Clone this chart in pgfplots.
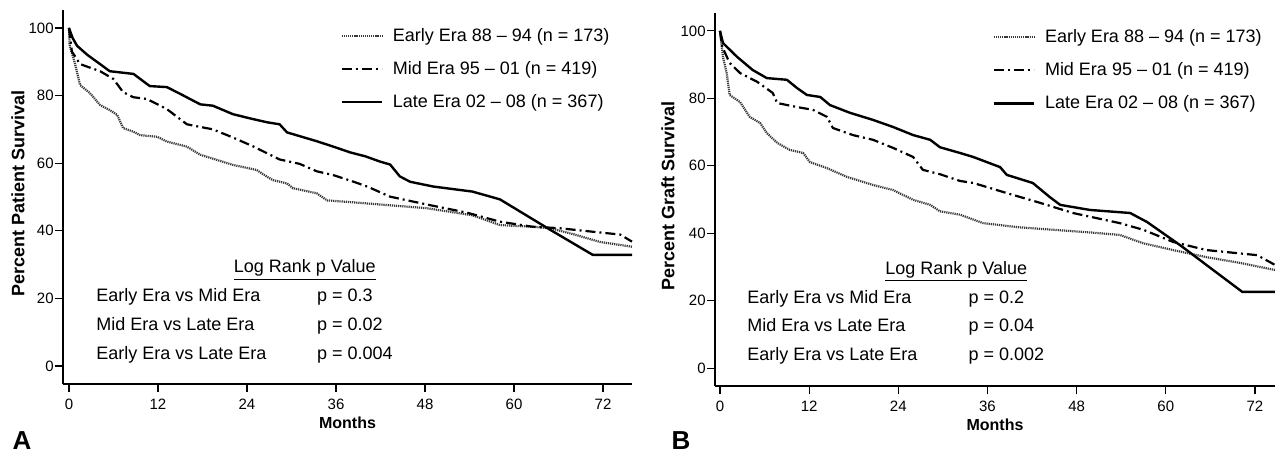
\documentclass[border=0pt]{standalone}
\usepackage{fontspec}
\setmainfont{Liberation Sans}
\usepackage{pgfplots}
\pgfplotsset{compat=1.18}

\tikzset{note/.style={font=\fontsize{9}{11}\selectfont, anchor=base west, inner sep=0pt}}
\pgfplotsset{
  km/.style={
    scale only axis,
    axis lines=left,
    axis line style={line width=1pt, -},
    tick align=outside, major tick length=4pt,
    tick style={line width=0.6pt, black},
    xtick={0,12,...,72}, ytick={0,20,...,100},
    ymin=-5.3, ymax=105.3,
    tick label style={font=\fontsize{7.5}{8}\selectfont},
    yticklabel style={inner sep=0.5pt},
    /pgf/number format/assume math mode=true,
    xlabel={Months},
    every axis x label/.style={at={(axis description cs:0.5,-0.104)}, anchor=center, font=\fontsize{8}{9}\selectfont\bfseries},
    legend cell align=left,
    legend image code/.code={\draw[##1] (0pt,0pt) -- (20pt,0pt);},
    legend style={draw=none, fill=none, anchor=north west, inner sep=0pt,
      font=\fontsize{9}{11}\selectfont,
      nodes={text height=7pt, text depth=2pt, inner sep=0pt},
      row sep=7.5pt,
      /tikz/every odd column/.append style={column sep=5pt}},
    clip=false,
  },
  early/.style={black!78, line width=1.1pt, dash pattern=on 0.6pt off 0.45pt, line join=round},
  mid/.style={black, line width=1.1pt, dash pattern=on 5pt off 2pt on 1pt off 2pt, line join=round},
  late/.style={black, line width=1.2pt, line join=round},
}

\begin{document}
\begin{tikzpicture}
\useasboundingbox (0,0) rectangle (637.5pt,226pt);

% A: patient survival
\begin{axis}[km,
  at={(31.5pt,34pt)}, anchor=south west,
  width=284.5pt, height=187pt,
  xmin=-0.8, xmax=75.9,
  ylabel={Percent Patient Survival},
  every axis y label/.style={at={(axis description cs:-0.079,0.51)}, rotate=90, anchor=center, font=\fontsize{9}{10}\selectfont\bfseries},
  legend style={at={(rel axis cs:0.487,0.955)}},
]
\addplot[early] coordinates {(0,100) (0.1,94.7) (0.8,89.6) (1.5,83.1) (2.8,80.8) (4.2,77.2) (5.5,75.7) (6.5,74.3) (7.3,70.4) (8.7,69.3) (9.6,68.3) (11.9,67.8) (13.2,66.4) (15.9,64.9) (17.7,62.5) (19.9,61) (22.1,59.5) (25.3,58) (26.7,56) (27.5,55) (29.4,54) (30.2,52.6) (33.4,51.1) (34.8,49) (37.9,48.5) (43,47.6) (48.2,46.7) (54.4,44.6) (58.1,41.7) (62.5,41.2) (64.8,40.8) (68,39) (71.6,36.7) (75.9,35.3)};
\addlegendentry{Early Era 88 – 94 (n = 173)}
\addplot[mid] coordinates {(0,100) (0.4,93) (1.5,89.3) (4.2,87.2) (6,84.9) (7.3,81) (8.7,79.5) (10.5,79) (13.2,76) (15,73) (15.9,71.5) (19.4,70) (22.1,67.6) (24.8,65) (28.4,61.1) (31.1,59.8) (33.4,57.6) (35.6,56.5) (38,54.8) (40.2,53.1) (43.3,50.1) (48.2,47.8) (53.6,45.4) (58.1,42.7) (62.5,41.2) (66,40.8) (71.6,39.5) (74.3,38.9) (75.9,36.8)};
\addlegendentry{Mid Era 95 – 01 (n = 419)}
\addplot[late] coordinates {(0,100) (0.5,97) (1.1,94.7) (2.5,92) (4.2,89.3) (5.5,87.2) (8.7,86.4) (10.9,82.8) (13.2,82.5) (15,80.5) (17.7,77.4) (19.4,77) (22.1,74.5) (24.5,73.2) (26.7,72.1) (28.4,71.5) (29.4,69.1) (31.1,68) (33.4,66.5) (35.5,65) (37.9,63.2) (40,62) (41.9,60.5) (43.3,59.6) (44.6,56.1) (46,54.5) (49.1,53.1) (54.4,51.6) (58.1,49.3) (64.8,40.4) (70.6,32.9) (75.9,32.9)};
\addlegendentry{Late Era 02 – 08 (n = 367)}
\node[font=\fontsize{9}{11}\selectfont, inner sep=0pt, anchor=base] at (axis cs:31.8,27.6) {\underline{Log Rank p Value}};
\node[note] at (axis cs:3.64,19.0) {Early Era vs Mid Era};
\node[note] at (axis cs:3.64,10.4) {Mid Era vs Late Era};
\node[note] at (axis cs:3.64,2.0) {Early Era vs Late Era};
\node[note] at (axis cs:33.4,19.0) {p = 0.3};
\node[note] at (axis cs:33.4,10.4) {p = 0.02};
\node[note] at (axis cs:33.4,2.0) {p = 0.004};
\end{axis}

% B: graft survival
\begin{axis}[km,
  at={(357.5pt,33pt)}, anchor=south west,
  width=280pt, height=186.5pt,
  xmin=-0.67, xmax=74.7,
  ylabel={Percent Graft Survival},
  every axis y label/.style={at={(axis description cs:-0.084,0.51)}, rotate=90, anchor=center, font=\fontsize{9}{10}\selectfont\bfseries},
  legend style={at={(rel axis cs:0.495,0.96)}},
]
\addplot[early] coordinates {(0,100) (0.4,92.3) (0.9,87.5) (1.3,81) (2.7,78.9) (4,74.5) (5.4,72.7) (6.3,69.7) (7.7,66.8) (9.4,64.7) (11.2,63.8) (12.1,61.1) (14.4,59.3) (17.1,56.7) (20.6,54.3) (23.3,52.8) (26,49.9) (28.3,48.4) (29.6,46.5) (32.3,45.5) (35.4,43) (40,41.8) (45,41) (50,40.2) (53.8,39.5) (57,37) (61,35) (65.5,32.9) (70,31.2) (74.7,29.1)};
\addlegendentry{Early Era 88 – 94 (n = 173)}
\addplot[mid] coordinates {(0,100) (0.3,95.3) (1.3,90.5) (2.7,87.5) (5,84.9) (7.1,81.6) (7.7,78.6) (10.4,77.4) (12.5,76.6) (14.4,74.5) (15.2,71.2) (17.9,69.1) (20.6,67.7) (23.3,65.3) (26,62.6) (27.3,58.8) (29.6,57.5) (32.3,55.5) (34.1,54.9) (38.6,51.9) (43.1,49) (47.5,46) (53.8,43) (57,41) (61,37.4) (65.5,35) (72.3,33.5) (74.7,30.6)};
\addlegendentry{Mid Era 95 – 01 (n = 419)}
\addplot[late] coordinates {(0,100) (0.4,96.4) (2.3,92.3) (4.4,88.4) (6.3,86) (9,85.5) (10.4,83) (11.7,81) (13.5,80.4) (14.8,78) (17.5,75.7) (20.6,73.6) (23.3,71.5) (26,69.1) (28.3,67.7) (29.6,65.5) (32.3,63.8) (34.1,62.6) (37.7,59.6) (38.6,57.3) (42.1,54.9) (44.4,50.7) (45.8,48.4) (49.8,46.9) (55.2,46) (57.5,43.3) (61.9,36.5) (70.3,22.6) (74.7,22.6)};
\addlegendentry{Late Era 02 – 08 (n = 367)}
\node[font=\fontsize{9}{11}\selectfont, inner sep=0pt, anchor=base] at (axis cs:31.8,27.9) {\underline{Log Rank p Value}};
\node[note] at (axis cs:3.63,19.2) {Early Era vs Mid Era};
\node[note] at (axis cs:3.63,10.8) {Mid Era vs Late Era};
\node[note] at (axis cs:3.63,2.4) {Early Era vs Late Era};
\node[note] at (axis cs:33.4,19.2) {p = 0.2};
\node[note] at (axis cs:33.4,10.8) {p = 0.04};
\node[note] at (axis cs:33.4,2.4) {p = 0.002};
\end{axis}

\node[font=\fontsize{13}{15}\selectfont\bfseries, inner sep=0pt, anchor=base] at (11pt,1.5pt) {A};
\node[font=\fontsize{13}{15}\selectfont\bfseries, inner sep=0pt, anchor=base] at (340.5pt,1.5pt) {B};
\end{tikzpicture}
\end{document}
